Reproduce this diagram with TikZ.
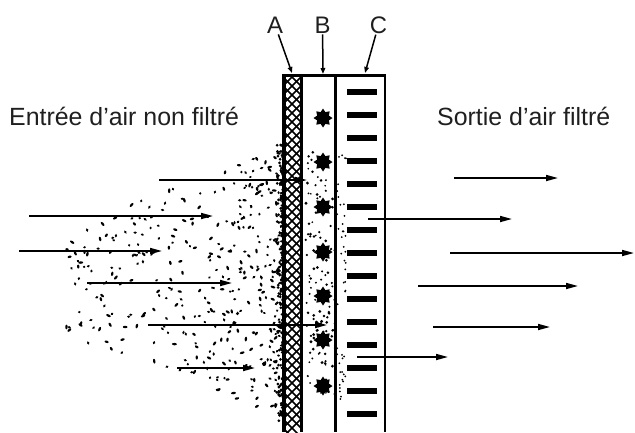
\documentclass[tikz,border=0pt]{standalone}
\usepackage{fontspec}
\setmainfont{Liberation Sans}
\usetikzlibrary{arrows.meta,shapes.geometric}

\tikzset{
  flow/.style={-{Triangle[length=12bp,width=6bp]}, line width=1.6bp},
  pointer/.style={-{Triangle[length=6bp,width=4.5bp]}, line width=1.5bp},
  tag/.style={font=\fontsize{24}{28}\selectfont, inner sep=1pt, text=black!88},
  caption/.style={font=\fontsize{25}{30}\selectfont, anchor=base west, inner sep=0pt, text=black!88},
  grain/.style={star, star points=8, star point ratio=1.5, fill=black, minimum size=19bp, inner sep=0pt},
  speck/.style={fill=black}
}

\begin{document}
\begin{tikzpicture}[x=1bp,y=-1bp]
  \useasboundingbox (0,0) rectangle (635,432);

  % dust cloud, thicker towards the filter
  \pgfmathsetseed{4217}
  \foreach \i in {1,...,480}{
    \pgfmathsetmacro{\dx}{220*rnd^2.8}
    \pgfmathsetmacro{\hh}{135-0.38*\dx}
    \pgfmathsetmacro{\px}{283-\dx}
    \pgfmathsetmacro{\py}{282+\hh*rand}
    \pgfmathsetmacro{\ra}{1.3+1.2*rnd}
    \pgfmathsetmacro{\ang}{180*rnd}
    \fill[speck] (\px,\py) circle [x radius=\ra bp, y radius=1.2bp, rotate=\ang];
  }
  % dust caught on the front face
  \foreach \i in {1,...,110}{
    \pgfmathsetmacro{\px}{277+7*rnd}
    \pgfmathsetmacro{\py}{145+280*rnd}
    \fill[speck] (\px,\py) circle [radius=1.5bp];
  }
  % dust inside layers B and C
  \foreach \i in {1,...,120}{
    \pgfmathsetmacro{\px}{305+30*rnd}
    \pgfmathsetmacro{\py}{150+260*rnd}
    \pgfmathsetmacro{\ra}{0.9+0.7*rnd}
    \fill[speck] (\px,\py) circle [radius=\ra bp];
  }
  \foreach \i in {1,...,45}{
    \pgfmathsetmacro{\px}{337+9*rnd}
    \pgfmathsetmacro{\py}{150+250*rnd}
    \fill[speck] (\px,\py) circle [radius=1bp];
  }

  % layer A: mesh
  \begin{scope}
    \clip (283,76) rectangle (301,432);
    \foreach \k in {50,59,...,440}{
      \draw[line width=1.6bp] (283,\k) -- ++(18,18);
      \draw[line width=1.6bp] (283,\k) -- ++(18,-18);
    }
  \end{scope}
  \draw[line width=3.6bp] (283.8,75) -- (283.8,432);
  \draw[line width=2.6bp] (301.6,75) -- (301.6,432);
  % layer B / C walls and top
  \draw[line width=2.2bp] (335.5,75) -- (335.5,432);
  \draw[line width=2bp] (384.5,75) -- (384.5,432);
  \draw[line width=3bp] (282,75.5) -- (385.5,75.5);

  % layer B: granules
  \foreach \yy [count=\n] in {118,162,207,252,296,340,386}
    \node[grain] (granule\n) at (323,\yy) {};
  % layer C: strips
  \foreach \k in {0,...,14}
    \fill (347,{92+23*\k-2.8}) rectangle (377,{92+23*\k+2.8});

  % layer names
  \node[tag] (lA) at (275,25) {A};
  \node[tag] (lB) at (322.5,25) {B};
  \node[tag] (lC) at (378.5,25) {C};
  \coordinate (tA) at (292,73);
  \coordinate (tB) at (323,74);
  \coordinate (tC) at (365,73);
  \draw[pointer] (lA) -- (tA);
  \draw[pointer] (lB) -- (tB);
  \draw[pointer] (lC) -- (tC);

  \node[caption] (inlet) at (9,125) {Entrée d’air non filtré};
  \node[caption] (outlet) at (437,125) {Sortie d’air filtré};

  % air flow
  \foreach \xa/\xb/\yy in {159/307/180, 29/213/216, 19/162/251, 87/232/283,
                           148/327/325, 177/255/368}
    \draw[flow] (\xa,\yy) -- (\xb,\yy);
  \foreach \xa/\xb/\yy in {454/558/178, 368/512/219, 450/634/253, 418/578/286,
                           433/550/327, 357/448/357}
    \draw[flow] (\xa,\yy) -- (\xb,\yy);
\end{tikzpicture}
\end{document}
